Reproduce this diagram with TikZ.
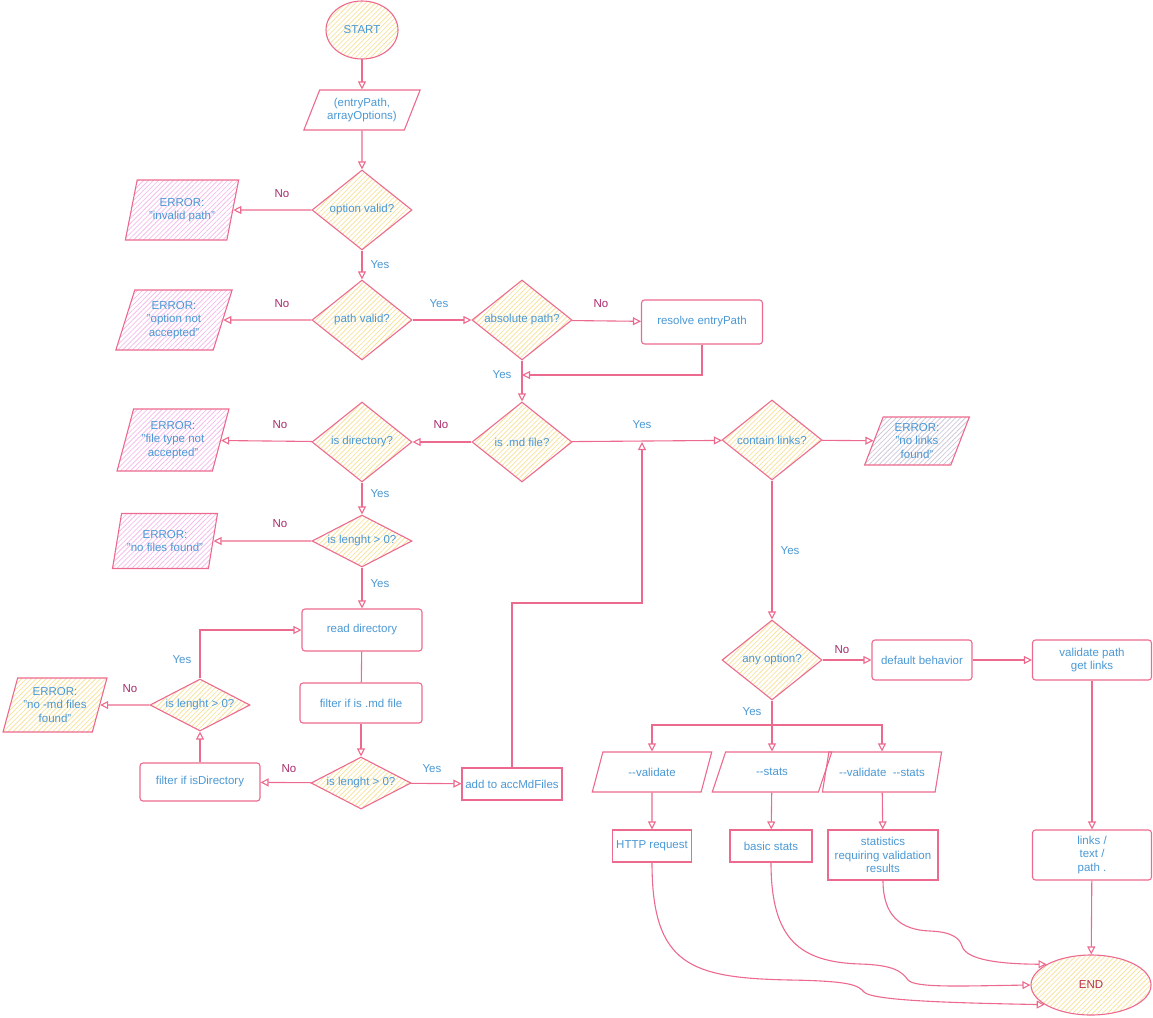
\documentclass[tikz,border=0pt]{standalone}
\usepackage{fontspec}
\setmainfont{Liberation Sans}
\usetikzlibrary{shapes.geometric,arrows.meta,patterns.meta}
\definecolor{pk}{HTML}{EC6A8E}
\definecolor{tb}{HTML}{4A98D4}
\definecolor{nm}{HTML}{A8286A}
\definecolor{endc}{HTML}{B8304E}
\definecolor{hy}{HTML}{F7E3A0}
\definecolor{hp}{HTML}{F4BDEA}
\definecolor{hg}{HTML}{CFC9DA}
\begin{document}
\begin{tikzpicture}[x=1pt,y=-1pt,font=\fontsize{11.5}{13.5}\selectfont,
  base/.style={draw=pk,line width=1.1pt,text=tb,align=center,inner sep=1pt},
  hatchY/.style={pattern={Lines[angle=45,distance=3.5pt,line width=0.8pt]},pattern color=hy},
  hatchP/.style={pattern={Lines[angle=45,distance=3.5pt,line width=0.8pt]},pattern color=hp},
  hatchG/.style={pattern={Lines[angle=45,distance=3.5pt,line width=0.8pt]},pattern color=hg},
  dec/.style={base,diamond,aspect=1.25,minimum width=100pt,minimum height=80pt,inner sep=0pt,hatchY},
  decs/.style={base,diamond,aspect=2,minimum width=100pt,minimum height=52pt,inner sep=0pt,hatchY},
  box/.style={base,rectangle,rounded corners=3pt},
  sbox/.style={base,rectangle},
  para/.style={base,trapezium,trapezium left angle=63,trapezium right angle=117,trapezium stretches=true},
  epara/.style={base,trapezium,trapezium left angle=71,trapezium right angle=109,trapezium stretches=true},
  term/.style={base,ellipse,hatchY},
  arr/.style={draw=pk,line width=1.1pt,-{Triangle[open,length=8pt,width=8pt]}},
  ln/.style={draw=pk,line width=1.1pt},
  yes/.style={text=tb,inner sep=0pt},
  no/.style={text=nm,inner sep=0pt}]
\useasboundingbox (0,0) rectangle (1153,1017);

% main column
\node[term,minimum width=72pt,minimum height=58pt] (start) at (362,30) {START};
\node[para,minimum width=117pt,minimum height=40pt] (input) at (362,110) {(entryPath,\\arrayOptions)};
\node[dec] (optv) at (362,210) {option valid?};
\node[epara,hatchP,minimum width=114pt,minimum height=60pt] (e1) at (182,210) {ERROR:\\"invalid path"};
\node[dec] (pathv) at (362,320) {path valid?};
\node[epara,hatchP,minimum width=117pt,minimum height=60pt] (e2) at (174,320) {ERROR:\\"option not\\accepted"};
\node[dec] (abs) at (522,320) {absolute path?};
\node[box,minimum width=121pt,minimum height=44pt] (resolve) at (702,322) {resolve entryPath};
\coordinate (j2) at (522,375);
\node[dec] (md) at (522,442) {is .md file?};
\node[dec] (dir) at (362,442) {is directory?};
\node[epara,hatchP,minimum width=113pt,minimum height=62pt] (e3) at (173,440) {ERROR:\\"file type not\\accepted"};
\node[dec] (links) at (772,440) {contain links?};
\node[epara,hatchG,minimum width=105pt,minimum height=48pt] (e6) at (917,441) {ERROR:\\"no links\\found"};
\node[decs] (len1) at (362,541) {is lenght \textgreater{} 0?};
\node[epara,hatchP,minimum width=106pt,minimum height=55pt] (e4) at (165,541) {ERROR:\\"no files found"};
\node[box,minimum width=120pt,minimum height=42pt] (readdir) at (362,630) {read directory};
\node[box,minimum width=122pt,minimum height=40pt] (filtermd) at (361,703) {filter if is .md file};
\node[decs] (len2) at (361,783) {is lenght \textgreater{} 0?};
\node[box,minimum width=120pt,minimum height=38pt] (filterdir) at (200,782) {filter if isDirectory};
\node[decs] (len3) at (200,705) {is lenght \textgreater{} 0?};
\node[epara,hatchY,minimum width=104pt,minimum height=54pt] (e5) at (55,705) {ERROR:\\"no -md files\\found"};
\node[sbox,minimum width=100pt,minimum height=32pt] (acc) at (512,784) {add to accMdFiles};
\coordinate (k1) at (642,603);
\coordinate (j1) at (642,442);

% right part
\node[dec] (anyopt) at (772,660) {any option?};
\node[box,minimum width=100pt,minimum height=40pt] (default) at (922,660) {default behavior};
\node[box,minimum width=119pt,minimum height=40pt] (valpath) at (1092,660) {validate path\\get links};
\coordinate (br) at (772,725);
\node[para,minimum width=120pt,minimum height=40pt] (o1) at (652,772) {-{}-validate};
\node[para,minimum width=120pt,minimum height=40pt] (o2) at (772,772) {-{}-stats};
\node[para,minimum width=120pt,minimum height=40pt] (o3) at (882,772) {-{}-validate\ \ -{}-stats};
\node[sbox,minimum width=79pt,minimum height=32pt] (http) at (652,846) {HTTP request};
\node[sbox,minimum width=82pt,minimum height=32pt] (basic) at (771,846) {basic stats};
\node[sbox,minimum width=110pt,minimum height=50pt] (statv) at (883,855) {statistics\\requiring validation\\results};
\node[box,minimum width=119pt,minimum height=50pt] (lnk) at (1092,855) {links /\\text /\\path .};
\node[term,minimum width=120pt,minimum height=60pt,text=endc] (end) at (1091,985) {END};

% connectors
\draw[arr] (start) -- (input);
\draw[arr] (input) -- (optv);
\draw[arr] (optv) -- (e1);
\draw[arr] (optv) -- (pathv);
\draw[arr] (pathv) -- (e2);
\draw[arr] (pathv) -- (abs);
\draw[arr] (abs) -- (resolve);
\draw[arr] (resolve.south) |- (j2);
\draw[arr] (abs) -- (md);
\draw[arr] (md) -- (dir);
\draw[arr] (dir) -- (e3);
\draw[arr] (md) -- (links);
\draw[arr] (links) -- (e6);
\draw[arr] (dir) -- (len1);
\draw[arr] (len1) -- (e4);
\draw[arr] (len1) -- (readdir);
\draw[ln] (readdir) -- (filtermd);
\draw[arr] (filtermd) -- (len2);
\draw[arr] (len2) -- (filterdir);
\draw[arr] (len2) -- (acc);
\draw[arr] (filterdir) -- (len3);
\draw[arr] (len3) -- (e5);
\draw[arr] (len3.north) |- (readdir.west);
\draw[arr] (acc.north) |- (k1) -- (j1);
\draw[arr] (links) -- (anyopt);
\draw[arr] (anyopt) -- (default);
\draw[arr] (default) -- (valpath);
\draw[arr] (valpath) -- (lnk);
\draw[arr] (lnk) -- (end);
\draw[ln] (anyopt.south) -- (br);
\draw[arr] (br) -| (o1);
\draw[arr] (br) -- (o2);
\draw[arr] (br) -| (o3);
\draw[arr] (o1) -- (http);
\draw[arr] (o2) -- (basic);
\draw[arr] (o3) -- (statv);
\draw[arr] (http.south) .. controls (652,965) and (690,978) .. (790,980)
  .. controls (850,981) and (858,985) .. (864,992)
  .. controls (872,1001) and (960,1003) .. (end.203);
\draw[arr] (basic.south) .. controls (771,940) and (800,962) .. (860,964)
  .. controls (895,965) and (902,972) .. (908,980)
  .. controls (915,988) and (960,986) .. (end.180);
\draw[arr] (statv.south) .. controls (883,915) and (900,930) .. (930,931)
  .. controls (955,932) and (960,940) .. (962,946)
  .. controls (966,960) and (1000,964) .. (end.155);

% labels
\node[no] (n1) at (282,194) {No};
\node[yes] (y1) at (380,265) {Yes};
\node[no] (n2) at (282,304) {No};
\node[yes] (y2) at (439,304) {Yes};
\node[no] (n3) at (601,304) {No};
\node[yes] (y3) at (502,375) {Yes};
\node[no] (n4) at (280,425) {No};
\node[no] (n5) at (441,425) {No};
\node[yes] (y4) at (642,425) {Yes};
\node[yes] (y5) at (380,494) {Yes};
\node[no] (n6) at (280,524) {No};
\node[yes] (y6) at (380,584) {Yes};
\node[yes] (y7) at (182,660) {Yes};
\node[no] (n7) at (130,689) {No};
\node[no] (n8) at (289,769) {No};
\node[yes] (y8) at (432,769) {Yes};
\node[yes] (y9) at (790,551) {Yes};
\node[no] (n9) at (842,650) {No};
\node[yes] (y10) at (752,712) {Yes};
\end{tikzpicture}
\end{document}
